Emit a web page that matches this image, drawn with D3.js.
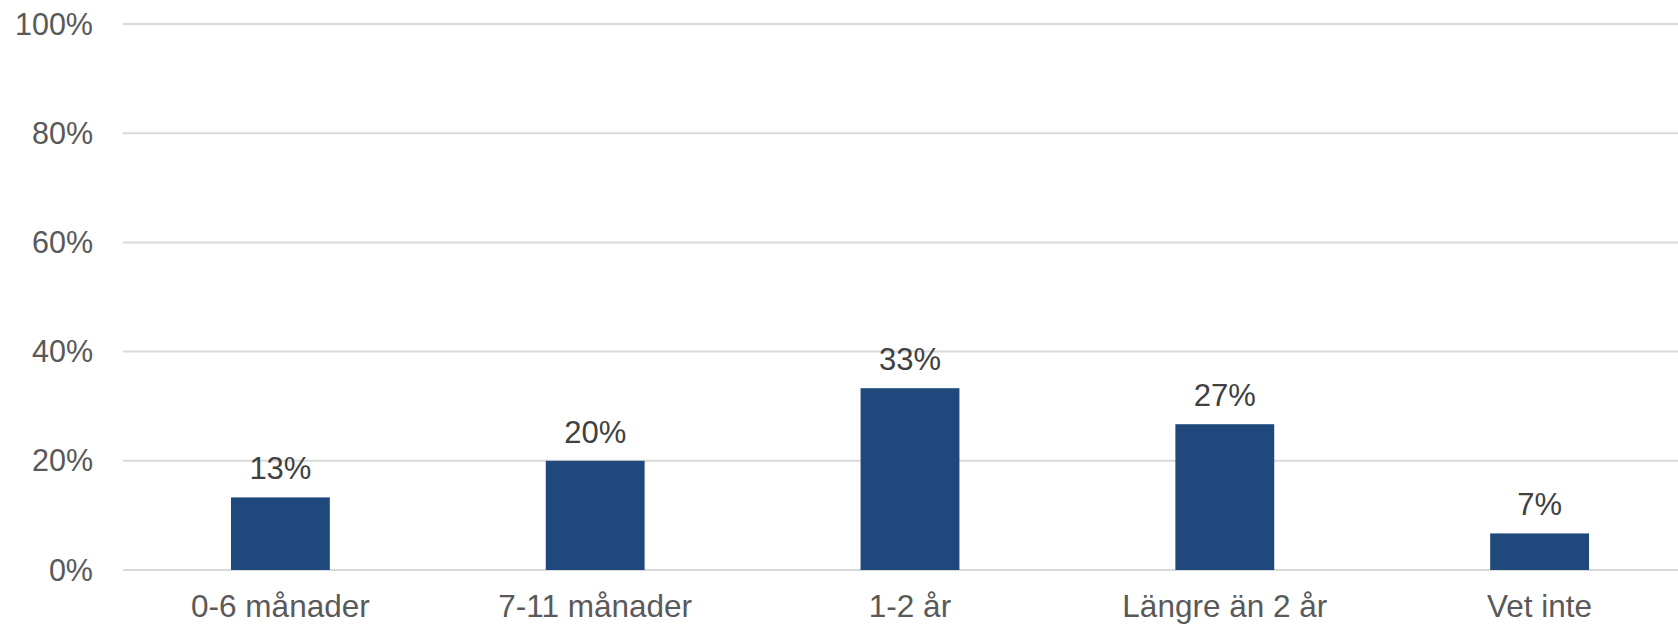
<!DOCTYPE html>
<html>
<head>
<meta charset="utf-8">
<script src="https://cdn.jsdelivr.net/npm/d3@7"></script>
<style>
  body { margin: 0; background: #fff; }
  svg { display: block; font-family: "Liberation Sans", Arial, sans-serif; }
</style>
</head>
<body>
<div id="chart"></div>
<script>
// Data
const categories = ["0-6 månader", "7-11 månader", "1-2 år", "Längre än 2 år", "Vet inte"];
const values = [13.3, 20, 33.3, 26.7, 6.7];
const yTicks = [0, 20, 40, 60, 80, 100];

const W = 1678, H = 626;
const margin = { top: 24, left: 123, bottom: 56 };
const plotRight = 1697; // plot area runs past the right edge in the original

const svg = d3.select("#chart").append("svg")
  .attr("width", W)
  .attr("height", H);

const x = d3.scaleBand()
  .domain(categories)
  .range([margin.left, plotRight])
  .padding(0);

const y = d3.scaleLinear()
  .domain([0, 100])
  .range([H - margin.bottom, margin.top]);

const barW = x.bandwidth() * 0.314;

// Grid lines
svg.append("g")
  .selectAll("line")
  .data(yTicks)
  .enter()
  .append("line")
    .attr("x1", margin.left)
    .attr("x2", W)
    .attr("y1", d => y(d))
    .attr("y2", d => y(d))
    .attr("stroke", "#d9d9d9")
    .attr("stroke-width", 2);

// Y tick labels
svg.append("g")
  .selectAll("text")
  .data(yTicks)
  .enter()
  .append("text")
    .attr("x", 93)
    .attr("y", d => y(d))
    .attr("dy", "0.35em")
    .attr("text-anchor", "end")
    .style("font-size", "30.5px")
    .style("fill", "#595959")
    .text(d => d + "%");

// Bars
svg.append("g")
  .selectAll("rect")
  .data(values)
  .enter()
  .append("rect")
    .attr("x", (d, i) => x(categories[i]) + x.bandwidth() / 2 - barW / 2)
    .attr("y", d => y(d))
    .attr("width", barW)
    .attr("height", d => y(0) - y(d))
    .attr("fill", "#1f497d");

// Value labels
svg.append("g")
  .selectAll("text")
  .data(values)
  .enter()
  .append("text")
    .attr("x", (d, i) => x(categories[i]) + x.bandwidth() / 2)
    .attr("y", d => y(d) - 18)
    .attr("text-anchor", "middle")
    .style("font-size", "31px")
    .style("fill", "#404040")
    .text(d => Math.round(d) + "%");

// X labels
svg.append("g")
  .selectAll("text")
  .data(categories)
  .enter()
  .append("text")
    .attr("x", d => x(d) + x.bandwidth() / 2)
    .attr("y", 617)
    .attr("text-anchor", "middle")
    .style("font-size", "31.5px")
    .style("fill", "#595959")
    .text(d => d);
</script>
</body>
</html>
